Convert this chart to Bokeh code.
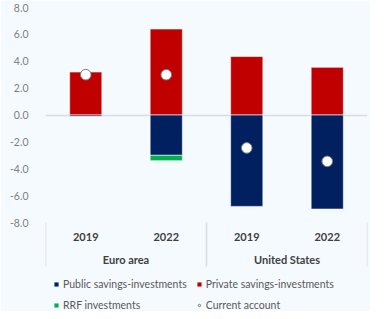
from bokeh.plotting import figure
from bokeh.models import (FactorRange, Range1d, FixedTicker, ColumnDataSource,
                          Legend, LegendItem, NumeralTickFormatter)
from bokeh.core.properties import value
from bokeh.embed import file_html
from bokeh.resources import INLINE

# ---- data ----
regions = ["Euro area", "Euro area", "United States", "United States"]
years = ["2019", "2022", "2019", "2022"]
public = [-0.1, -3.0, -6.8, -7.0]
private = [3.2, 6.4, 4.35, 3.55]
rrf = [0.0, -0.4, 0.0, 0.0]
current_account = [3.0, 3.0, -2.45, -3.45]
group_names = ["Euro area", "United States"]
y_ticks = [-8, -6, -4, -2, 0, 2, 4, 6, 8]

# ---- styles ----
BG = "#F5FAFE"
NAVY = "#002060"
RED = "#C00000"
GREEN = "#00B050"
FONT = "Lato"

factors = list(zip(regions, years))
src = ColumnDataSource(dict(
    x=factors, public=public, private=private, ca=current_account,
    zero=[0.0] * len(factors),
))
rrf_idx = [i for i, r in enumerate(rrf) if r != 0]
rrf_src = ColumnDataSource(dict(
    x=[factors[i] for i in rrf_idx],
    bottom=[public[i] for i in rrf_idx],
    top=[public[i] + rrf[i] for i in rrf_idx],
))

p = figure(
    width=370, height=311,
    x_range=FactorRange(factors=factors, group_padding=0, factor_padding=0, range_padding=0),
    y_range=Range1d(-14.623, 8.149),
    x_axis_location=None,
    output_backend="svg", toolbar_location=None,
    min_border_left=45, min_border_right=3, min_border_top=5, min_border_bottom=0,
    background_fill_color=BG, border_fill_color=BG, outline_line_color=None,
)

# y axis
p.yaxis.ticker = FixedTicker(ticks=y_ticks)
p.yaxis.formatter = NumeralTickFormatter(format="0.0")
p.yaxis.axis_line_color = None
p.yaxis.major_tick_line_color = None
p.yaxis.minor_tick_line_color = None
p.yaxis.major_label_standoff = 11
p.yaxis.major_label_text_font = FONT
p.yaxis.major_label_text_font_size = "10.5px"
p.yaxis.major_label_text_color = "#7F7F7F"

p.xgrid.visible = False
p.ygrid.ticker = FixedTicker(ticks=[0])
p.ygrid.grid_line_color = "#D9DCE1"
p.ygrid.grid_line_width = 1.5

bar_kw = dict(width=0.4, line_color="white", line_alpha=0.6, line_width=1)
r_priv = p.vbar(x="x", bottom="zero", top="private", source=src, fill_color=RED, **bar_kw)
r_pub = p.vbar(x="x", bottom="public", top="zero", source=src, fill_color=NAVY, **bar_kw)
r_rrf = p.vbar(x="x", bottom="bottom", top="top", source=rrf_src, fill_color=GREEN, **bar_kw)
r_ca = p.circle(x="x", y="ca", source=src, radius=5.3, radius_units="screen",
                fill_color="white", line_color="#7A7A7A", line_width=1)

# category labels
p.text(x=factors, y=[-9.06] * len(factors), text=years,
       text_align="center", text_baseline="middle",
       text_font=value(FONT), text_font_size="11px", text_font_style="bold",
       text_color="#404040")
p.text(x=group_names, y=[-10.73] * len(group_names), text=group_names,
       text_align="center", text_baseline="middle",
       text_font=value(FONT), text_font_size="11px", text_font_style="bold",
       text_color="#404040")

# group separators
sep_x = [(regions[0], years[0], -0.5), (regions[2], years[2], -0.5), (regions[3], years[3], 0.5)]
p.segment(x0=sep_x, x1=sep_x, y0=[-8.0] * 3, y1=[-11.27] * 3,
          line_color="#D9DCE1", line_width=1.5)

legend = Legend(
    items=[
        LegendItem(label="Public savings-investments", renderers=[r_pub]),
        LegendItem(label="Private savings-investments", renderers=[r_priv]),
        LegendItem(label="RRF investments", renderers=[r_rrf]),
        LegendItem(label="Current account", renderers=[r_ca]),
    ],
    location=(8, 0), orientation="horizontal", ncols=2,
    glyph_width=6, glyph_height=6, label_standoff=4, spacing=9,
    padding=0, margin=0, label_height=12,
    label_text_font=FONT, label_text_font_size="10.5px", label_text_color="#595959",
    border_line_color=None, background_fill_alpha=0,
)
p.add_layout(legend)

open("out.html", "w").write(file_html(p, INLINE))
